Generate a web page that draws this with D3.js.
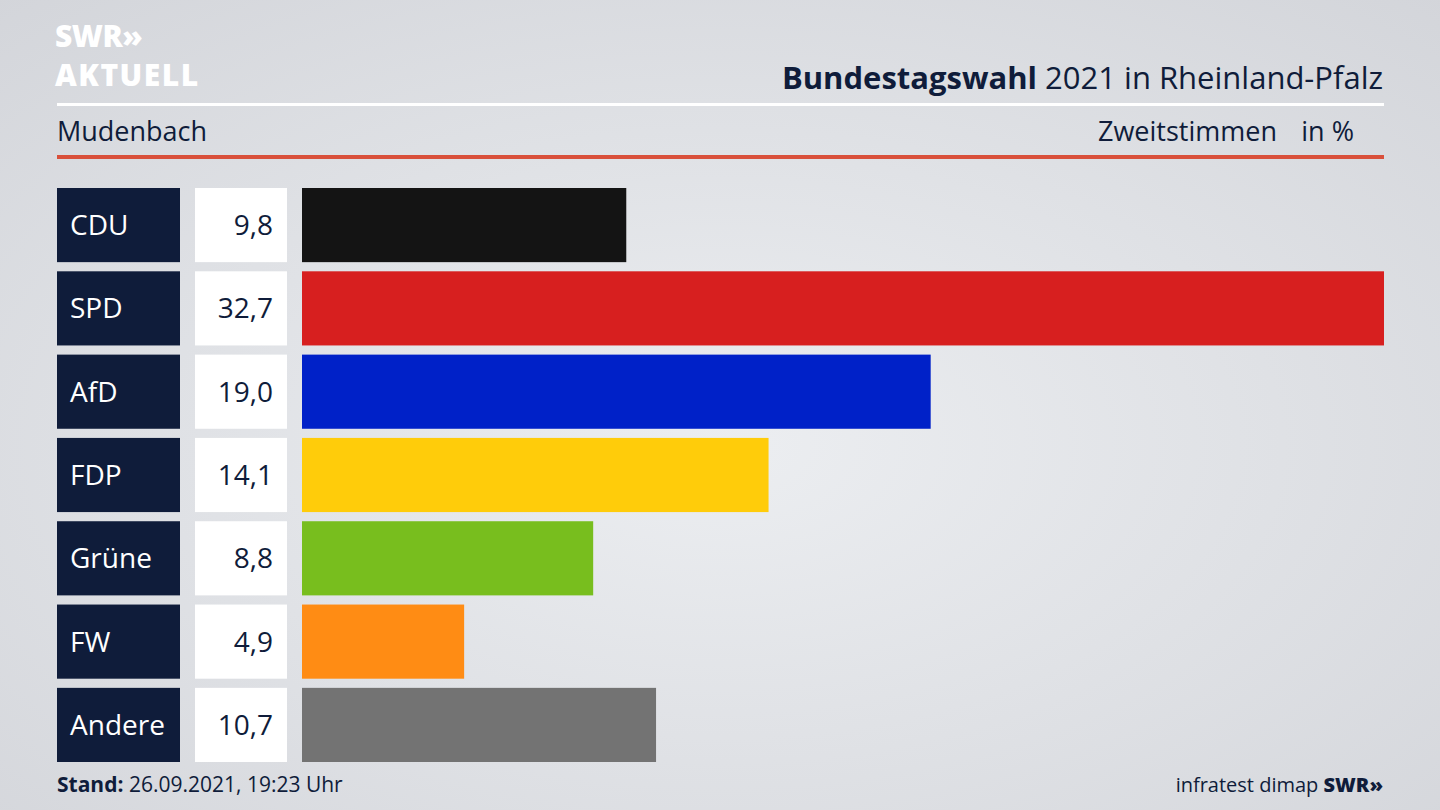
<!DOCTYPE html>
<html><head><meta charset="utf-8">
<script src="https://cdn.jsdelivr.net/npm/d3@7"></script>
<style>body{margin:0}svg{display:block}</style></head>
<body><svg id="c" width="1440" height="810"></svg>
<script>
const parties = ["CDU", "SPD", "AfD", "FDP", "Grüne", "FW", "Andere"]
const values = [9.8, 32.7, 19.0, 14.1, 8.8, 4.9, 10.7]
const colors = ["#141414", "#d71f1f", "#0021c8", "#ffcc0a", "#78be1e", "#ff8c14", "#737373"]

const svg = d3.select("#c")
const font = "'Open Sans', 'Noto Sans', sans-serif"
const navy = "#0f1c3a"

// background
const g = svg.append("defs").append("radialGradient").attr("id", "bg").attr("cx", "50%").attr("cy", "55%").attr("r", "75%")
g.append("stop").attr("offset", "0%").attr("stop-color", "#eceef1")
g.append("stop").attr("offset", "100%").attr("stop-color", "#d3d5da")
svg.append("rect").attr("width", 1440).attr("height", 810).attr("fill", "url(#bg)")

// logo
svg.append("text").attr("x", 55).attr("y", 47).attr("font-family", font).attr("font-weight", 800)
  .attr("font-size", 30).attr("fill", "#fff").attr("letter-spacing", -0.5).text("SWR»")
svg.append("text").attr("x", 55).attr("y", 86).attr("font-family", font).attr("font-weight", 800)
  .attr("font-size", 30).attr("fill", "#fff").attr("letter-spacing", 1.5).text("AKTUELL")

// title
const t = svg.append("text").attr("x", 1383).attr("y", 89).attr("text-anchor", "end")
  .attr("font-family", font).attr("font-size", 31).attr("fill", navy)
t.append("tspan").attr("font-weight", 700).text("Bundestagswahl")
t.append("tspan").text(" 2021 in Rheinland-Pfalz")
svg.append("rect").attr("x", 57).attr("y", 103).attr("width", 1327).attr("height", 3).attr("fill", "#fff")
svg.append("text").attr("x", 57).attr("y", 141).attr("font-family", font).attr("font-size", 27).attr("fill", navy).text("Mudenbach")
svg.append("text").attr("x", 1277).attr("y", 141).attr("text-anchor", "end").attr("font-family", font).attr("font-size", 27).attr("fill", navy).text("Zweitstimmen")
svg.append("text").attr("x", 1354).attr("y", 141).attr("text-anchor", "end").attr("font-family", font).attr("font-size", 27).attr("fill", navy).text("in %")
svg.append("rect").attr("x", 57).attr("y", 155).attr("width", 1327).attr("height", 4).attr("fill", "#d9503b")

// bars
const x = d3.scaleLinear().domain([0, 32.7]).range([302, 1384])
const y = d3.scaleBand().domain(parties).range([188, 762]).paddingInner(0.11).paddingOuter(0)
const rows = svg.append("g").selectAll("g").data(parties).join("g")
rows.append("rect").attr("x", 57).attr("y", d => y(d)).attr("width", 123).attr("height", y.bandwidth()).attr("fill", navy)
rows.append("text").attr("x", 70).attr("y", d => y(d) + y.bandwidth() / 2 + 10).attr("font-family", font)
  .attr("font-size", 28).attr("fill", "#fff").text(d => d)
rows.append("rect").attr("x", 195).attr("y", d => y(d)).attr("width", 92).attr("height", y.bandwidth()).attr("fill", "#fff")
rows.append("text").attr("x", 273).attr("y", d => y(d) + y.bandwidth() / 2 + 10).attr("text-anchor", "end")
  .attr("font-family", font).attr("font-size", 28).attr("fill", navy).text((d, i) => values[i].toFixed(1).replace(".", ","))
rows.append("rect").attr("x", x(0)).attr("y", d => y(d)).attr("height", y.bandwidth())
  .attr("width", (d, i) => x(values[i]) - x(0)).attr("fill", (d, i) => colors[i])

// footer
const s = svg.append("text").attr("x", 57).attr("y", 792).attr("font-family", font).attr("font-size", 21).attr("fill", navy)
s.append("tspan").attr("font-weight", 700).text("Stand:")
s.append("tspan").text(" 26.09.2021, 19:23 Uhr")
const f = svg.append("text").attr("x", 1383).attr("y", 792).attr("text-anchor", "end").attr("font-family", font).attr("font-size", 20).attr("fill", navy)
f.append("tspan").text("infratest dimap  ")
f.append("tspan").attr("font-weight", 800).text("SWR»")
</script></body></html>
